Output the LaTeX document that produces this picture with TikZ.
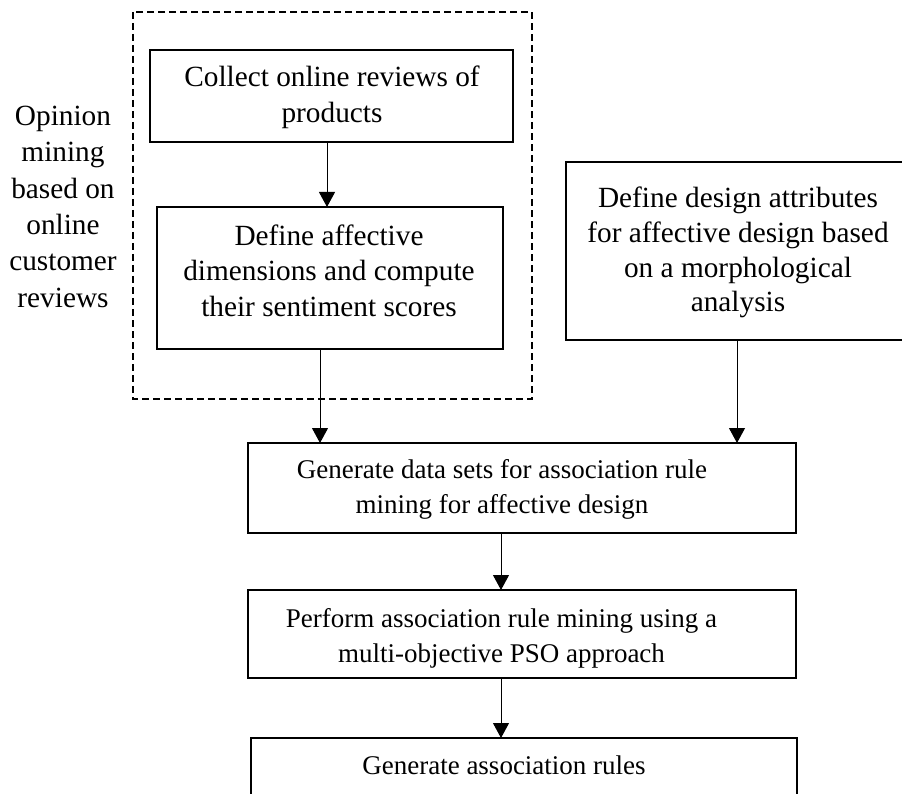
\documentclass[tikz,border=0pt]{standalone}
\usepackage{fontspec}
\setmainfont{Liberation Serif}
\usetikzlibrary{arrows.meta}

\tikzset{
  stepbox/.style={draw=black, line width=1.8pt, inner sep=0pt, outer sep=0pt},
  uppertext/.style={align=center, inner sep=0pt, font=\fontsize{29.3}{35.5}\selectfont},
  lowertext/.style={align=center, inner sep=0pt, font=\fontsize{27}{34.5}\selectfont},
  sidetext/.style={align=center, inner sep=0pt, font=\fontsize{29.3}{36.3}\selectfont},
  groupbox/.style={draw=black, line width=1.3pt, dash pattern=on 7pt off 4pt},
  flow/.style={line width=1pt, -{Triangle[length=15pt, width=16pt]}},
}

\begin{document}
\begin{tikzpicture}[x=1pt, y=-1pt]
  \useasboundingbox (0,0) rectangle (902,794);
  \clip (0,0) rectangle (902,794);

  % opinion-mining group
  \draw[groupbox] (133,12) rectangle (532,399);
  \node[sidetext] (side) at (63,209) {\strut Opinion\\\strut mining\\\strut based on\\\strut online\\\strut customer\\\strut reviews};

  % step boxes
  \node[stepbox, minimum width=363pt, minimum height=92pt] (collect) at (331.5,96) {};
  \node[stepbox, minimum width=346pt, minimum height=142pt] (affect) at (330,278) {};
  \node[stepbox, minimum width=344pt, minimum height=178pt] (attrib) at (738,251) {};
  \node[stepbox, minimum width=548pt, minimum height=90pt] (gendata) at (522,488) {};
  \node[stepbox, minimum width=548pt, minimum height=88pt] (perform) at (522,634) {};
  \node[stepbox, minimum width=546pt, minimum height=59pt] (rules) at (524,767.5) {};

  % step texts
  \node[uppertext] (tcollect) at (332,97.5) {\strut Collect online reviews of\\\strut products};
  \node[uppertext] (taffect) at (329,273.5) {\strut Define affective\\\strut dimensions and compute\\\strut their sentiment scores};
  \node[uppertext, font=\fontsize{29.3}{34.7}\selectfont] (tattrib) at (738,253) {\strut Define design attributes\\\strut for affective design based\\\strut on a morphological\\\strut analysis};
  \node[lowertext] (tgendata) at (502,489) {\strut Generate data sets for association rule\\\strut mining for affective design};
  \node[lowertext] (tperform) at (501.5,638) {\strut Perform association rule mining using a\\\strut multi-objective PSO approach};
  \node[lowertext] (trules) at (504,768) {\strut Generate association rules};

  % connectors
  \draw[flow] ([xshift=-4.5pt]collect.south) -- ([xshift=-3pt]affect.north);
  \draw[flow] ([xshift=-10pt]affect.south) -- ([xshift=-202pt]gendata.north);
  \draw[flow] ([xshift=-1pt]attrib.south) -- ([xshift=215pt]gendata.north);
  \draw[flow] ([xshift=-21pt]gendata.south) -- ([xshift=-21pt]perform.north);
  \draw[flow] ([xshift=-21pt]perform.south) -- ([xshift=-23pt]rules.north);
\end{tikzpicture}
\end{document}
